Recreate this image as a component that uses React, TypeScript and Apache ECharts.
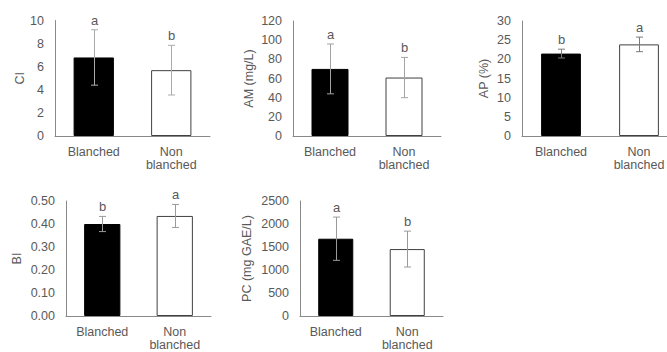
import React, { useEffect, useRef } from "react";
import * as echarts from "echarts";

const categories = ["Blanched", "Non\nblanched"];

const ciMean = [6.8, 5.7];
const ciSd = [2.4, 2.15];
const ciLetters = ["a", "b"];

const amMean = [70, 61];
const amSd = [26, 21];
const amLetters = ["a", "b"];

const apMean = [21.5, 23.9];
const apSd = [1.15, 1.9];
const apLetters = ["b", "a"];

const biMean = [0.4, 0.435];
const biSd = [0.033, 0.05];
const biLetters = ["b", "a"];

const pcMean = [1680, 1455];
const pcSd = [470, 390];
const pcLetters = ["a", "b"];

const FONT = "'Liberation Sans', Arial, sans-serif";
const TEXT = "#595959";
const AXIS = "#898989";

const panels = [
  { name: "CI", mean: ciMean, sd: ciSd, letters: ciLetters, max: 10, interval: 2, dec: 0, grid: { left: 55, top: 20.5, width: 155, height: 115.5 }, gap: 29, barWidth: "52%", err: "#ababab" },
  { name: "AM (mg/L)", mean: amMean, sd: amSd, letters: amLetters, max: 120, interval: 20, dec: 0, grid: { left: 293, top: 21, width: 148, height: 115 }, gap: 38, barWidth: "50%", err: "#a3a3a3" },
  { name: "AP (%)", mean: apMean, sd: apSd, letters: apLetters, max: 30, interval: 5, dec: 0, grid: { left: 522, top: 21, width: 156, height: 115 }, gap: 32, barWidth: "51%", err: "#7a7a7a" },
  { name: "BI", mean: biMean, sd: biSd, letters: biLetters, max: 0.5, interval: 0.1, dec: 2, grid: { left: 66, top: 201, width: 145, height: 115 }, gap: 43, barWidth: "50%", err: "#9a9a9a" },
  { name: "PC (mg GAE/L)", mean: pcMean, sd: pcSd, letters: pcLetters, max: 2500, interval: 500, dec: 0, grid: { left: 300, top: 201, width: 143, height: 115 }, gap: 47, barWidth: "49%", err: "#9a9a9a" },
];

export default function App() {
  const ref = useRef<HTMLDivElement>(null);
  useEffect(() => {
    if (!ref.current) return;
    const chart = echarts.init(ref.current, undefined, { renderer: "svg" });
    const grid: any[] = [];
    const xAxis: any[] = [];
    const yAxis: any[] = [];
    const series: any[] = [];
    panels.forEach((p, i) => {
      grid.push({ ...p.grid, containLabel: false, outerBoundsMode: "none" });
      xAxis.push({
        type: "category",
        gridIndex: i,
        data: categories,
        axisLine: { show: true, lineStyle: { color: AXIS, width: 1 } },
        axisTick: { show: false },
        axisLabel: { color: TEXT, fontFamily: FONT, fontSize: 12.5, lineHeight: 13.5, margin: 9, interval: 0 },
      });
      yAxis.push({
        type: "value",
        gridIndex: i,
        min: 0,
        max: p.max,
        interval: p.interval,
        name: p.name,
        nameLocation: "middle",
        nameGap: p.gap,
        nameRotate: 90,
        nameTextStyle: { color: TEXT, fontFamily: FONT, fontSize: 12.5 },
        axisLine: { show: true, lineStyle: { color: AXIS, width: 1 } },
        axisTick: { show: false },
        splitLine: { show: false },
        axisLabel: {
          color: TEXT,
          fontFamily: FONT,
          fontSize: 12.5,
          margin: 11,
          formatter: (v: number) => v.toFixed(p.dec),
        },
      });
      series.push({
        type: "bar",
        xAxisIndex: i,
        yAxisIndex: i,
        barWidth: p.barWidth,
        data: p.mean.map((m, j) => ({
          value: m,
          itemStyle: j === 0
            ? { color: "#000000", borderColor: "#000000", borderWidth: 1 }
            : { color: "#ffffff", borderColor: "#404040", borderWidth: 1 },
        })),
        z: 2,
      });
      series.push({
        type: "custom",
        xAxisIndex: i,
        yAxisIndex: i,
        z: 5,
        clip: false,
        encode: { x: 0, y: 1 },
        data: p.mean.map((m, j) => [j, m, p.sd[j]]),
        renderItem: (params: any, api: any) => {
          const x = api.value(0);
          const m = api.value(1);
          const s = api.value(2);
          const letter = p.letters[params.dataIndex];
          const top = api.coord([x, m + s]);
          const bot = api.coord([x, m - s]);
          const cx = Math.round(top[0]) + 0.5;
          const cap = 3.5;
          const ls = { stroke: p.err, lineWidth: 1 };
          return {
            type: "group",
            children: [
              { type: "line", shape: { x1: cx, y1: top[1], x2: cx, y2: bot[1] }, style: ls },
              { type: "line", shape: { x1: cx - cap, y1: top[1], x2: cx + cap, y2: top[1] }, style: ls },
              { type: "line", shape: { x1: cx - cap, y1: bot[1], x2: cx + cap, y2: bot[1] }, style: ls },
              {
                type: "text",
                style: {
                  text: letter,
                  x: cx,
                  y: top[1] - 3,
                  align: "center",
                  verticalAlign: "bottom",
                  fill: TEXT,
                  fontSize: 13,
                  fontFamily: FONT,
                },
              },
            ],
          };
        },
      });
    });
    chart.setOption({
      animation: false,
      backgroundColor: "#ffffff",
      grid,
      xAxis,
      yAxis,
      series,
    });
    return () => chart.dispose();
  }, []);
  return (
    <div
      ref={ref}
      style={{ position: "fixed", left: 0, top: 0, width: 667, height: 352 }}
    />
  );
}
